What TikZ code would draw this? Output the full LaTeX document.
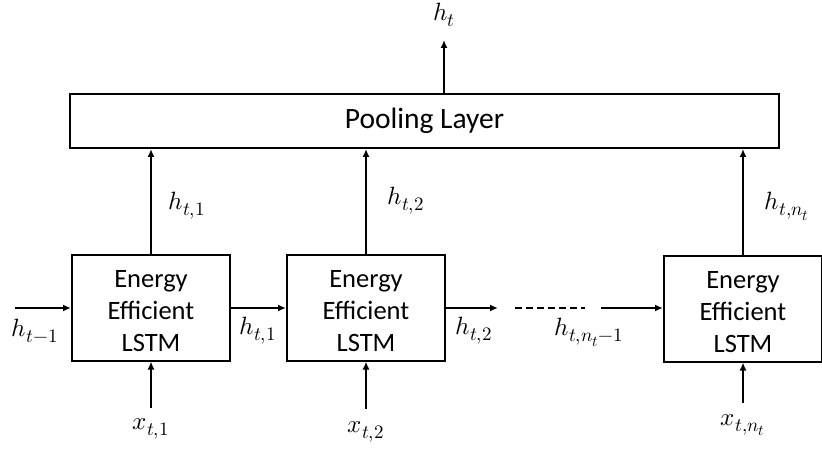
\documentclass[tikz,border=0pt]{standalone}
\usepackage{fontspec}
\usepackage{unicode-math}
\setmathfont{Latin Modern Math}
\setsansfont{Carlito}
\DeclareMathSizes{25}{25}{19}{15}
\usetikzlibrary{arrows.meta}
\begin{document}
\begin{tikzpicture}[x=1pt,y=-1pt,
  blk/.style={draw,line width=2pt,minimum width=158pt,minimum height=105pt,align=center,font=\sffamily\fontsize{26.5}{32}\selectfont,inner sep=0pt},
  pool/.style={draw,line width=2pt,minimum width=709pt,minimum height=54pt,font=\sffamily\fontsize{29.5}{32}\selectfont,inner sep=0pt},
  arr/.style={line width=2pt,-{Latex[length=8pt,width=7pt]}},
  lab/.style={font=\fontsize{25}{28}\selectfont,inner sep=0pt}]
\useasboundingbox (0,0) rectangle (822,449);
\node[pool] (P) at (424.5,121) {Pooling Layer};
\node[blk] (L1) at (151,308) {\strut Energy\\Efficient\\LSTM};
\node[blk] (L2) at (366,308) {\strut Energy\\Efficient\\LSTM};
\node[blk] (L3) at (743,309) {\strut Energy\\Efficient\\LSTM};
\coordinate (ht) at (444,40);
\node[lab] (htl) at (444,15) {$h_t$};
\draw[arr] (P.north -| ht) -- (ht);
\draw[arr] (L1.north) -- (L1.north |- P.south);
\draw[arr] (L2.north) -- (L2.north |- P.south);
\draw[arr] (L3.north) -- (L3.north |- P.south);
\node[lab] (a1) at (187,206) {$h_{t,1}$};
\node[lab] (a2) at (406,201) {$h_{t,2}$};
\node[lab] (a3) at (787,206) {$h_{t,n_t}$};
\coordinate (hin) at (15,308);
\draw[arr] (hin) -- (L1.west |- hin);
\node[lab] (hm1) at (35,331) {$h_{t-1}$};
\draw[arr] (L1.east |- hin) -- (L2.west |- hin);
\node[lab] (b1) at (258,331) {$h_{t,1}$};
\coordinate (c2) at (498,308);
\draw[arr] (L2.east |- hin) -- (c2);
\node[lab] (b2) at (474,331) {$h_{t,2}$};
\coordinate (d1) at (515,308);
\coordinate (d2) at (585,308);
\draw[line width=2pt,dash pattern=on 7pt off 4pt] (d1) -- (d2);
\coordinate (c3) at (601,308);
\draw[arr] (c3) -- (L3.west |- c3);
\node[lab] (b3) at (589,332) {$h_{t,n_t-1}$};
\coordinate (x1c) at (151,408);
\coordinate (x2c) at (366,409);
\coordinate (x3c) at (743,403);
\draw[arr] (x1c) -- (L1.south);
\draw[arr] (x2c) -- (L2.south);
\draw[arr] (x3c) -- (L3.south);
\node[lab] (x1) at (151,429) {$x_{t,1}$};
\node[lab] (x2) at (366,432) {$x_{t,2}$};
\node[lab] (x3) at (743,425) {$x_{t,n_t}$};
\end{tikzpicture}
\end{document}
